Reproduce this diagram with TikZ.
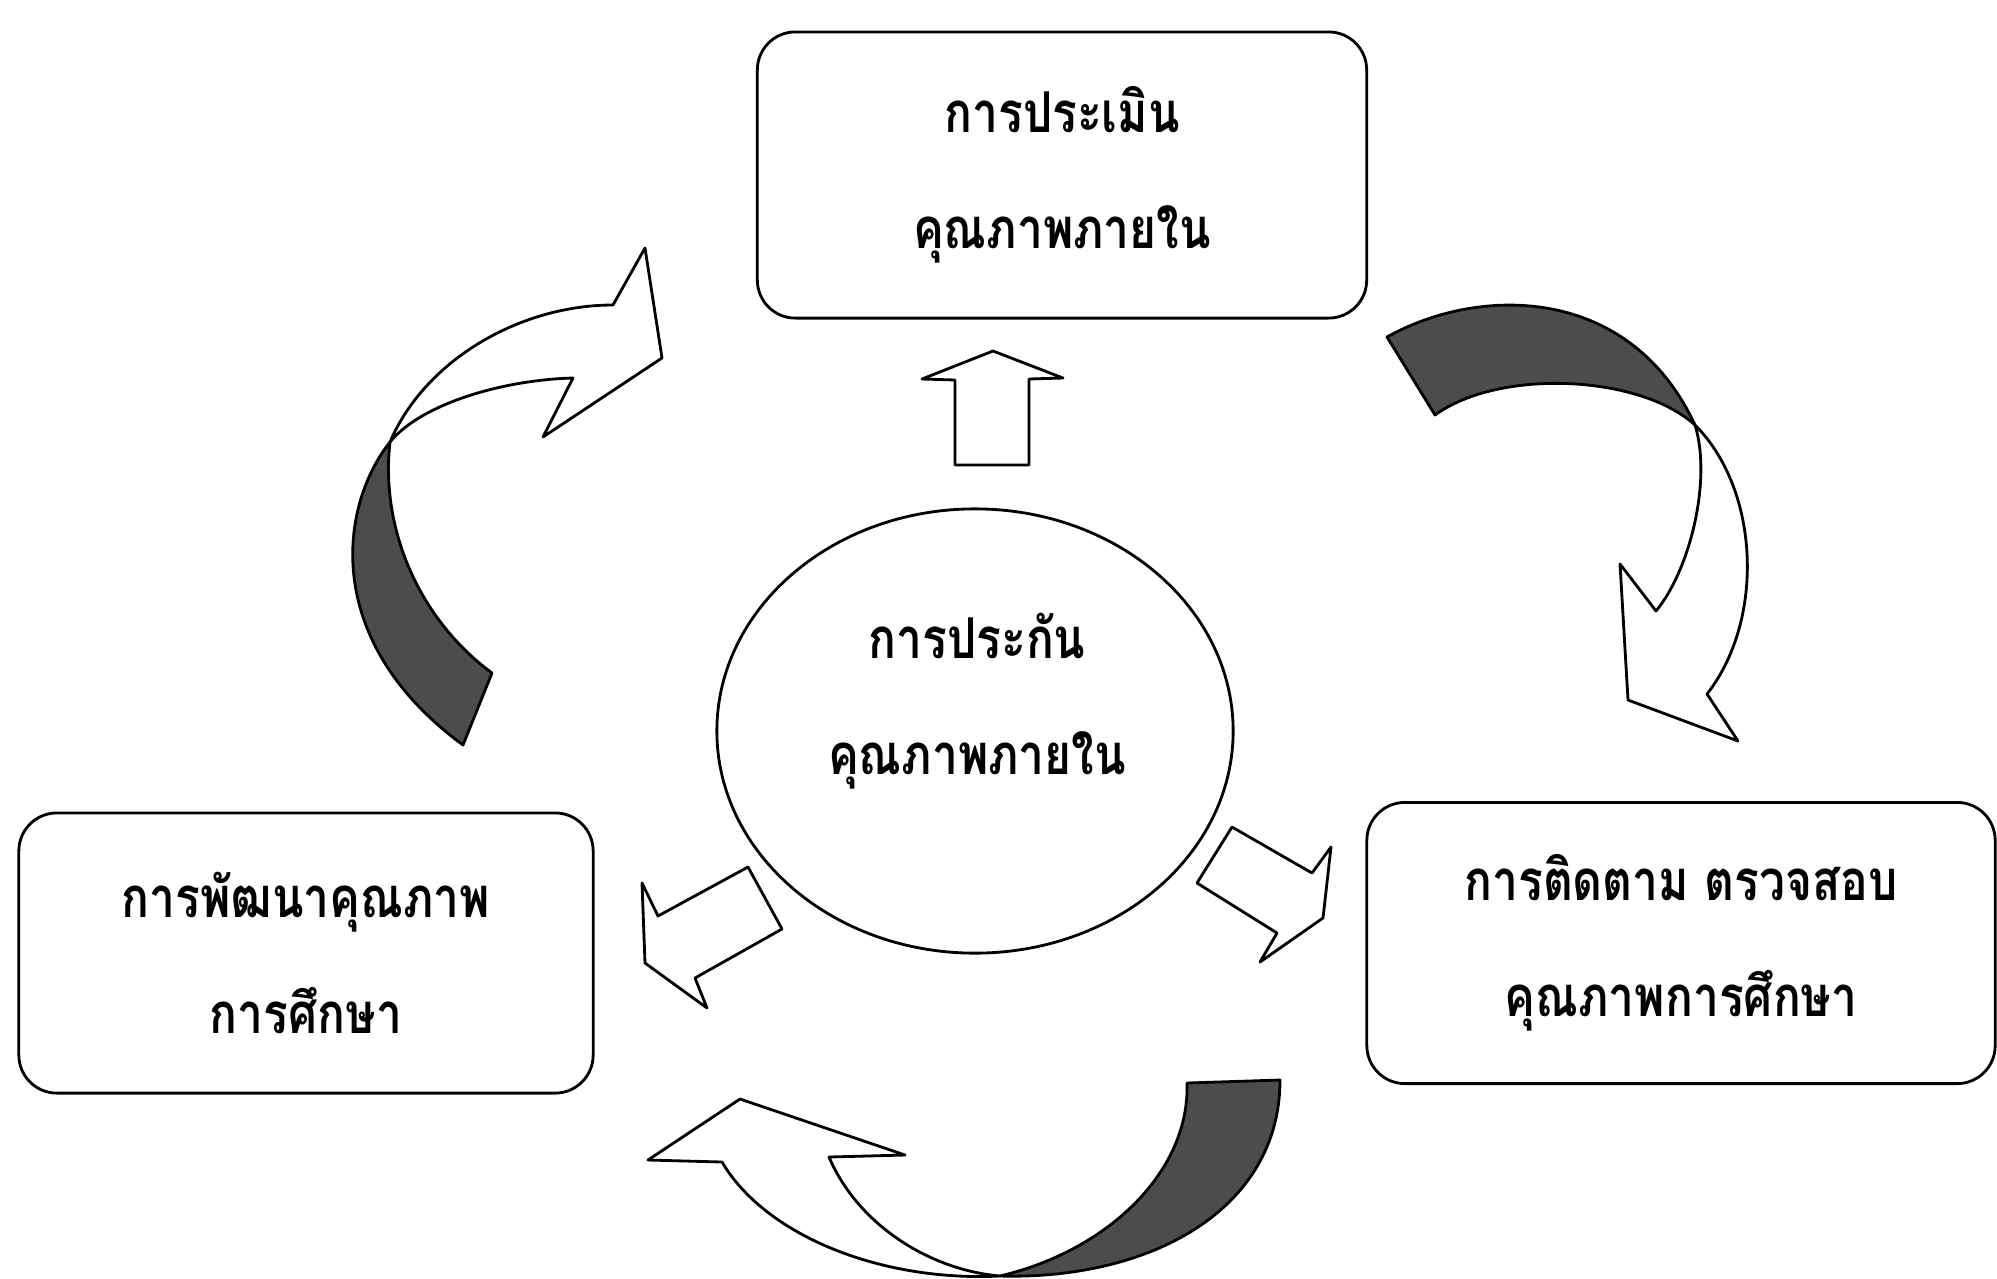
\documentclass[tikz,border=0pt]{standalone}
\usepackage{fontspec}
\newfontfamily\thaifont[Script=Thai,FakeStretch=0.82]{Loma}
\usetikzlibrary{shapes.geometric}

\begin{document}
\begin{tikzpicture}[x=0.01cm,y=-0.01cm,
        thaitext/.style={align=center,font={\thaifont\bfseries\fontsize{16}{33}\selectfont}},
        box/.style={thaitext,draw,line width=0.8pt,rounded corners=0.38cm},
        blockarrow/.style={draw,fill=white,line width=0.8pt,line join=round},
        backside/.style={draw,fill=black!70,line width=0.8pt,line join=round}]
            \fill[white] (0,0) rectangle (1997,1278);
            \useasboundingbox (0,0) rectangle (1997,1278);
            \node[box,minimum width=6.09cm,minimum height=2.86cm] (evaluate) at (1062,175) {การประเมิน\\คุณภาพภายใน};
            \node[box,minimum width=5.74cm,minimum height=2.80cm] (develop) at (306,953) {การพัฒนาคุณภาพ\\การศึกษา};
            \node[box,minimum width=6.28cm,minimum height=2.81cm] (monitor) at (1681,943) {การติดตาม ตรวจสอบ\\คุณภาพการศึกษา};
            \node[draw,ellipse,line width=0.8pt,minimum width=5.16cm,minimum height=4.44cm] (assure) at (975,731) {};
            \node[thaitext] (assuretext) at (977,701) {การประกัน\\คุณภาพภายใน};
            \draw[blockarrow] (955,465) -- (955,380) -- (922,379) -- (993,351) -- (1063,378) -- (1029,379) -- (1029,465) -- cycle;
            \draw[blockarrow] (748,867) -- (658,916) -- (642,883) -- (645,963) -- (707,1008) -- (695,978) -- (782,929) -- cycle;
            \draw[blockarrow] (1232,827) -- (1312,873) -- (1331,847) -- (1323,918) -- (1260,962) -- (1277,933) -- (1197,883) -- cycle;
            \draw[backside] (390,442) .. controls (340,505) and (320,640) .. (463,745) -- (492,673) .. controls (420,620) and (380,530) .. (390,442) -- cycle;
            \draw[blockarrow] (390,442) .. controls (425,360) and (520,305) .. (613,305) -- (645,248) -- (662,358) -- (543,437) -- (573,378) .. controls (500,380) and (420,405) .. (390,442) -- cycle;
            \draw[backside] (1387,337) .. controls (1480,285) and (1630,285) .. (1695,425) .. controls (1640,375) and (1500,368) .. (1435,415) -- cycle;
            \draw[blockarrow] (1695,425) .. controls (1760,490) and (1765,620) .. (1707,694) -- (1738,741) -- (1628,700) -- (1620,564) -- (1656,611) .. controls (1690,570) and (1712,480) .. (1695,425) -- cycle;
            \draw[backside] (1187,1083) -- (1280,1080) .. controls (1280,1210) and (1150,1280) .. (1000,1276) .. controls (1110,1250) and (1190,1170) .. (1187,1083) -- cycle;
            \draw[blockarrow] (1000,1276) .. controls (880,1282) and (765,1235) .. (722,1162) -- (648,1160) -- (740,1099) -- (905,1155) -- (829,1157) .. controls (858,1225) and (930,1270) .. (1000,1276) -- cycle;
        \end{tikzpicture}
\end{document}
